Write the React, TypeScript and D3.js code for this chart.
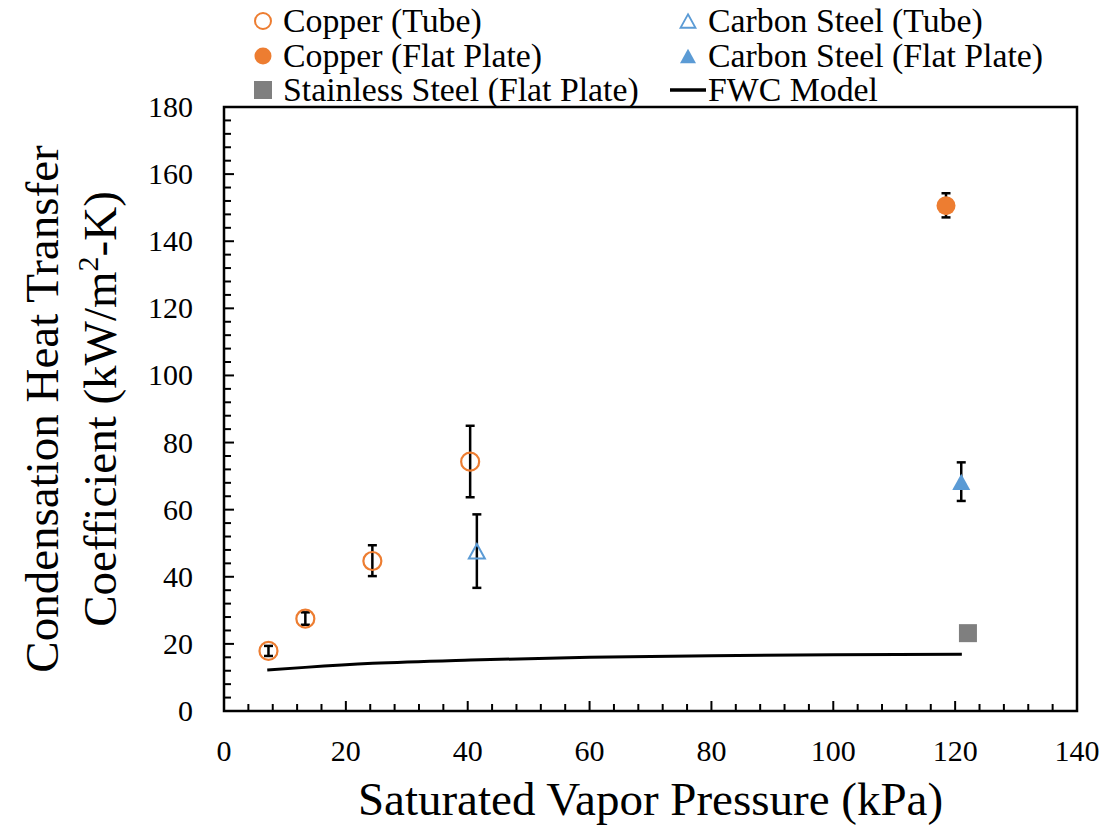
import React from "react";
import * as d3 from "d3";

// ---------- data ----------
const copperTubeX = [7.3, 13.35, 24.35, 40.4];
const copperTubeY = [17.9, 27.5, 44.7, 74.3];
const copperTubeLo = [16.4, 25.7, 40.2, 63.7];
const copperTubeHi = [19.4, 29.4, 49.4, 85.0];

const carbonTubeX = [41.5];
const carbonTubeY = [47.6];
const carbonTubeLo = [36.7];
const carbonTubeHi = [58.6];

const copperFlatX = [118.5];
const copperFlatY = [150.6];
const copperFlatLo = [147.1];
const copperFlatHi = [154.3];

const carbonFlatX = [121.0];
const carbonFlatY = [68.3];
const carbonFlatLo = [62.6];
const carbonFlatHi = [74.1];

const stainlessX = [122.1];
const stainlessY = [23.2];

const fwcX = [7.1, 13.3, 24.4, 40.5, 60, 80, 100, 121.1];
const fwcY = [12.2, 13.0, 14.2, 15.2, 16.0, 16.5, 16.8, 16.9];

const xTicks = [0, 20, 40, 60, 80, 100, 120, 140];
const yTicks = [0, 20, 40, 60, 80, 100, 120, 140, 160, 180];

const ORANGE = "#ED7D31";
const BLUE = "#5B9BD5";
const GRAY = "#7F7F7F";
const FONT = "'Liberation Serif', 'Times New Roman', serif";

const W = 1114;
const H = 826;
const L = 224, R = 1077, T = 107, B = 711;

export default function App() {
  const x = d3.scaleLinear().domain([0, 140]).range([L, R]);
  const y = d3.scaleLinear().domain([0, 180]).range([B, T]);

  const minorX = d3.range(0, 141, 4).filter((v) => v % 20 !== 0);
  const minorY = d3.range(0, 181, 4).filter((v) => v % 20 !== 0);

  const line = d3
    .line<number>()
    .x((_, i) => x(fwcX[i]))
    .y((_, i) => y(fwcY[i]))
    .curve(d3.curveMonotoneX);

  const triPath = (cx: number, cy: number, s: number) => {
    const h = s * 0.9;
    return `M${cx},${cy - h / 2}L${cx + s / 2},${cy + h / 2}L${cx - s / 2},${cy + h / 2}Z`;
  };

  const errBars = (xs: number[], lo: number[], hi: number[], key: string) =>
    xs.map((xv, i) => (
      <g key={key + i} stroke="#000" strokeWidth={2.5}>
        <line x1={x(xv)} x2={x(xv)} y1={y(lo[i])} y2={y(hi[i])} />
        <line x1={x(xv) - 4.5} x2={x(xv) + 4.5} y1={y(lo[i])} y2={y(lo[i])} />
        <line x1={x(xv) - 4.5} x2={x(xv) + 4.5} y1={y(hi[i])} y2={y(hi[i])} />
      </g>
    ));

  const legendRows = [21, 56, 90];
  const legendFont = 33.8;

  return (
    <div style={{ position: "absolute", left: 0, top: 0 }}>
      <svg width={W} height={H} style={{ display: "block", background: "#fff" }} fontFamily={FONT}>
        <rect x={0} y={0} width={W} height={H} fill="#fff" />

        {/* ticks */}
        <g stroke="#000" strokeWidth={2}>
          {xTicks.map((v) => (
            <line key={"xM" + v} x1={x(v)} x2={x(v)} y1={B} y2={B - 10} />
          ))}
          {minorX.map((v) => (
            <line key={"xm" + v} x1={x(v)} x2={x(v)} y1={B} y2={B - 7} />
          ))}
          {yTicks.map((v) => (
            <line key={"yM" + v} x1={L} x2={L + 10} y1={y(v)} y2={y(v)} />
          ))}
          {minorY.map((v) => (
            <line key={"ym" + v} x1={L} x2={L + 7} y1={y(v)} y2={y(v)} />
          ))}
        </g>

        {/* frame */}
        <rect x={L} y={T} width={R - L} height={B - T} fill="none" stroke="#000" strokeWidth={2.5} />

        {/* tick labels */}
        <g fontSize={30} fill="#000">
          {xTicks.map((v) => (
            <text key={"xl" + v} x={x(v)} y={761} textAnchor="middle">
              {v}
            </text>
          ))}
          {yTicks.map((v) => (
            <text key={"yl" + v} x={193} y={y(v) + 10} textAnchor="end">
              {v}
            </text>
          ))}
        </g>

        {/* axis titles */}
        <text x={(L + R) / 2} y={815} textAnchor="middle" fontSize={47} fill="#000">
          Saturated Vapor Pressure (kPa)
        </text>
        <g transform={`translate(0, ${(T + B) / 2}) rotate(-90)`} fontSize={47} fill="#000">
          <text x={0} y={58} textAnchor="middle">
            Condensation Heat Transfer
          </text>
          <text x={0} y={116} textAnchor="middle">
            Coefficient (kW/m<tspan fontSize={30} dy={-18}>2</tspan>
            <tspan dy={18}>-K)</tspan>
          </text>
        </g>

        {/* FWC model */}
        <path d={line(fwcX) || ""} fill="none" stroke="#000" strokeWidth={3} />

        {/* error bars */}
        {errBars(copperTubeX, copperTubeLo, copperTubeHi, "ct")}
        {errBars(carbonTubeX, carbonTubeLo, carbonTubeHi, "cst")}
        {errBars(copperFlatX, copperFlatLo, copperFlatHi, "cf")}
        {errBars(carbonFlatX, carbonFlatLo, carbonFlatHi, "csf")}

        {/* markers */}
        {copperTubeX.map((v, i) => (
          <circle key={"ctm" + i} cx={x(v)} cy={y(copperTubeY[i])} r={9} fill="none" stroke={ORANGE} strokeWidth={2.2} />
        ))}
        {carbonTubeX.map((v, i) => (
          <path key={"cstm" + i} d={triPath(x(v), y(carbonTubeY[i]), 16)} fill="none" stroke={BLUE} strokeWidth={2} />
        ))}
        {copperFlatX.map((v, i) => (
          <circle key={"cfm" + i} cx={x(v)} cy={y(copperFlatY[i])} r={9.5} fill={ORANGE} />
        ))}
        {carbonFlatX.map((v, i) => (
          <path key={"csfm" + i} d={triPath(x(v), y(carbonFlatY[i]), 18)} fill={BLUE} />
        ))}
        {stainlessX.map((v, i) => (
          <rect key={"ssm" + i} x={x(v) - 9} y={y(stainlessY[i]) - 9} width={18} height={18} fill={GRAY} />
        ))}

        {/* legend */}
        <g fontSize={legendFont} fill="#000">
          <circle cx={263} cy={legendRows[0]} r={8} fill="none" stroke={ORANGE} strokeWidth={2} />
          <text x={283} y={legendRows[0] + 11}>Copper (Tube)</text>
          <circle cx={263} cy={legendRows[1]} r={8.5} fill={ORANGE} />
          <text x={283} y={legendRows[1] + 11}>Copper (Flat Plate)</text>
          <rect x={254} y={legendRows[2] - 9} width={18} height={18} fill={GRAY} />
          <text x={283} y={legendRows[2] + 11}>Stainless Steel (Flat Plate)</text>

          <path d={triPath(688, legendRows[0], 15)} fill="none" stroke={BLUE} strokeWidth={1.8} />
          <text x={708} y={legendRows[0] + 11}>Carbon Steel (Tube)</text>
          <path d={triPath(688, legendRows[1], 16)} fill={BLUE} />
          <text x={708} y={legendRows[1] + 11}>Carbon Steel (Flat Plate)</text>
          <line x1={670} x2={706} y1={legendRows[2]} y2={legendRows[2]} stroke="#000" strokeWidth={3.5} />
          <text x={708} y={legendRows[2] + 11}>FWC Model</text>
        </g>
      </svg>
    </div>
  );
}
